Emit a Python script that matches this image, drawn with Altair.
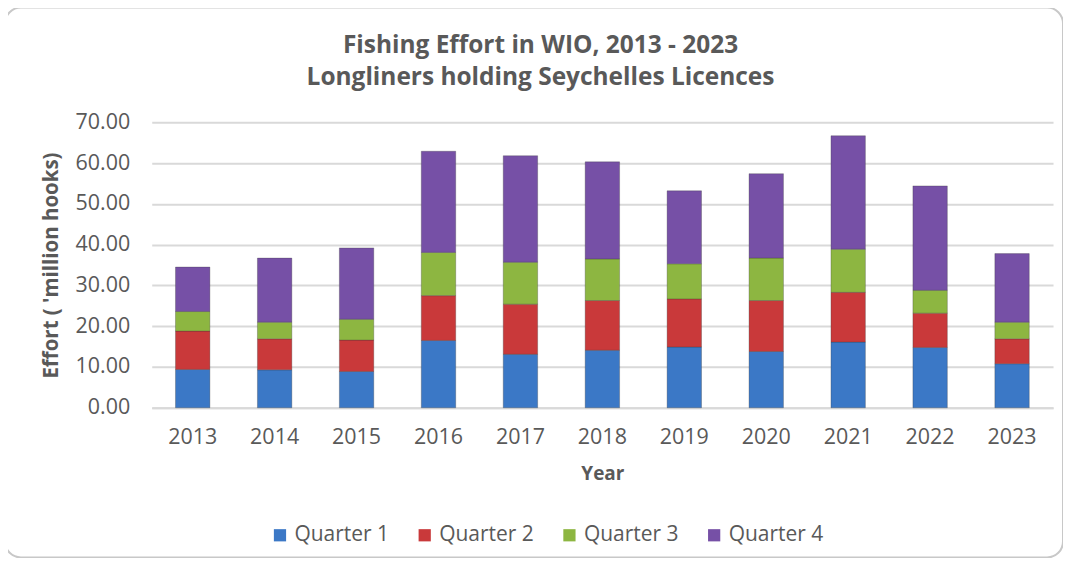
import altair as alt
import pandas as pd

years = ["2013", "2014", "2015", "2016", "2017", "2018", "2019", "2020", "2021", "2022", "2023"]
quarters = ["Quarter 1", "Quarter 2", "Quarter 3", "Quarter 4"]
q1 = [9.4, 9.3, 8.9, 16.5, 13.1, 14.1, 14.9, 13.8, 16.1, 14.8, 10.8]
q2 = [9.4, 7.6, 7.7, 11.0, 12.3, 12.2, 11.8, 12.5, 12.2, 8.4, 6.1]
q3 = [4.8, 4.1, 5.1, 10.6, 10.3, 10.2, 8.6, 10.4, 10.6, 5.6, 4.1]
q4 = [10.9, 15.7, 17.5, 24.8, 26.1, 23.8, 17.9, 20.7, 27.8, 25.6, 16.8]
colors = ["#3B78C6", "#C9393A", "#8DB641", "#7650A6"]

rows = []
for qi, (q, vals) in enumerate(zip(quarters, [q1, q2, q3, q4])):
    for y, v in zip(years, vals):
        rows.append({"Year": y, "Quarter": q, "Effort": v, "ord": qi})
df = pd.DataFrame(rows)

FONT = "Open Sans"
GRAY = "#595959"

bars = alt.Chart(df).mark_bar(stroke="#3a3a3a", strokeWidth=0.6, strokeOpacity=0.5).encode(
    x=alt.X("Year:N", sort=years,
            scale=alt.Scale(paddingInner=0.58, paddingOuter=0.29),
            axis=alt.Axis(title="Year", labelAngle=0, labelFontSize=21.5, labelColor=GRAY,
                          labelPadding=19, titleFontSize=19, titleColor=GRAY, titleFontWeight="bold",
                          titlePadding=16, ticks=False, domainColor="#d9d9d9", domainWidth=2,
                          labelFont=FONT, titleFont=FONT)),
    y=alt.Y("Effort:Q", stack="zero",
            scale=alt.Scale(domain=[0, 70]),
            axis=alt.Axis(title="Effort ( 'million hooks)", format=".2f", values=[0, 10, 20, 30, 40, 50, 60, 70],
                          labelFontSize=21.5, labelColor=GRAY, labelPadding=22, ticks=False, domain=False,
                          gridColor="#d9d9d9", gridWidth=2, titleFontSize=20.5, titleColor=GRAY,
                          titleFontWeight="bold", titlePadding=14, labelFont=FONT, titleFont=FONT)),
    color=alt.Color("Quarter:N", sort=quarters,
                    scale=alt.Scale(domain=quarters, range=colors),
                    legend=alt.Legend(orient="none", legendX=118, legendY=403, direction="horizontal",
                                      title=None, symbolType="square", symbolSize=150,
                                      symbolStrokeWidth=0, labelFontSize=21, labelColor=GRAY,
                                      labelFont=FONT, columnPadding=25, symbolOffset=0, labelOffset=4,
                                      labelLimit=200)),
    order=alt.Order("ord:Q", sort="ascending"),
)

frame = alt.Chart(alt.Data(values=[{}])).mark_rect(
    fillOpacity=0, stroke="#c8c8c8", strokeWidth=2, cornerRadius=16
).encode(
    x=alt.value(-147), x2=alt.value(913), y=alt.value(-115), y2=alt.value(436)
)

chart = alt.layer(bars, frame).properties(
    width=903,
    height=286,
    title=alt.TitleParams(
        text=["Fishing Effort in WIO, 2013 - 2023", "Longliners holding Seychelles Licences"],
        fontSize=24.5, font=FONT, fontWeight="bold", color=GRAY, anchor="middle",
        frame="group", dx=-62, offset=-84, lineHeight=32,
    ),
    autosize=alt.AutoSizeParams(type="none"),
    padding={"left": 144, "top": 114, "right": 10, "bottom": 150},
).configure_view(stroke=None)

chart.save("out.html", embed_options={"renderer": "svg", "actions": False})
